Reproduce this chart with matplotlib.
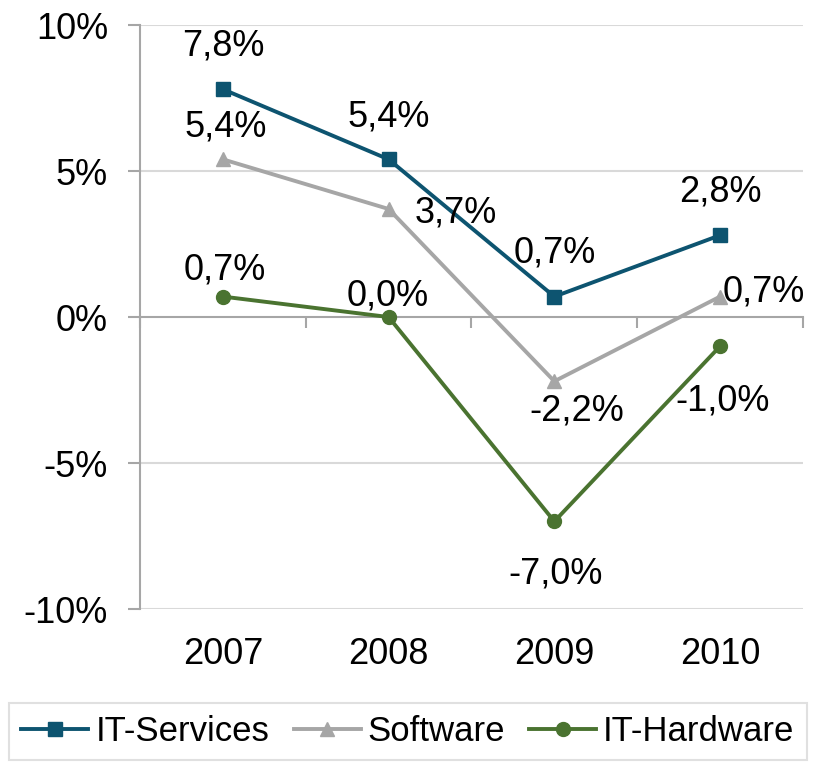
import matplotlib.pyplot as plt
from matplotlib.ticker import FuncFormatter

plt.rcParams['font.family'] = ['Liberation Sans', 'DejaVu Sans']

years = ['2007', '2008', '2009', '2010']
it_services = [7.8, 5.4, 0.7, 2.8]
software = [5.4, 3.7, -2.2, 0.7]
it_hardware = [0.7, 0.0, -7.0, -1.0]

# label placement per point: (dx, dy in points to baseline, horizontal alignment)
services_off = [(0, 24.5, 'center'), (0, 24, 'center'), (0, 24.5, 'center'), (0, 24.5, 'center')]
software_off = [(2, 16.5, 'center'), (19, -9.5, 'left'), (16, -28, 'center'), (1.5, -3.6, 'left')]
hardware_off = [(1, 12, 'center'), (-1, 8, 'center'), (1, -45, 'center'), (2, -46, 'center')]

FS = 26
fig = plt.figure(figsize=(8.16, 7.63), dpi=100)
ax = fig.add_axes([0.1716, 0.2018, 0.8124, 0.7654])

x = range(len(years))
series = [
    ('IT-Services', it_services, '#0D5470', 's', 10, services_off),
    ('Software', software, '#A6A6A6', '^', 10.5, software_off),
    ('IT-Hardware', it_hardware, '#4A7330', 'o', 10, hardware_off),
]
for name, vals, col, mk, ms, offs in series:
    ax.plot(x, vals, color=col, lw=2.8, marker=mk, markersize=ms, label=name, zorder=3)
    for xi, v, (dx, dy, ha) in zip(x, vals, offs):
        ax.annotate(f'{v:.1f}%'.replace('.', ','), (xi, v), xytext=(dx, dy),
                    textcoords='offset points', ha=ha, va='baseline',
                    fontsize=FS, zorder=4)

ax.set_xlim(-0.5, 3.5)
ax.set_ylim(-10, 10)
ax.set_yticks([-10, -5, 0, 5, 10])
ax.yaxis.set_major_formatter(FuncFormatter(lambda v, p: f'{v:.0f}%'))
for y in [-10, -5, 5, 10]:
    ax.axhline(y, color='#D9D9D9', lw=1.5, zorder=1)

for s in ['top', 'right']:
    ax.spines[s].set_visible(False)
ax.spines['left'].set_color('#A6A6A6')
ax.spines['left'].set_linewidth(1.5)
ax.spines['bottom'].set_position(('data', 0))
ax.spines['bottom'].set_color('#A6A6A6')
ax.spines['bottom'].set_linewidth(1.5)

ax.tick_params(axis='y', labelsize=FS, length=9, width=1.5, color='#A6A6A6', pad=14)
ax.set_xticks(list(x))
ax.set_xticklabels([])
ax.tick_params(axis='x', which='major', length=0)
ax.set_xticks([-0.5, 0.5, 1.5, 2.5, 3.5], minor=True)
ax.tick_params(axis='x', which='minor', length=8, width=1.5, color='#A6A6A6', direction='out')

for xi, yr in zip(x, years):
    ax.text(xi, -0.094, yr, transform=ax.get_xaxis_transform(), ha='center', va='baseline', fontsize=FS)

leg = fig.legend(loc='upper center', bbox_to_anchor=(0.5, 1 - 703 / 763), ncol=3, fontsize=25,
                 frameon=True, fancybox=False, edgecolor='#D9D9D9', handlelength=1.93,
                 columnspacing=0.7, handletextpad=0.2, borderpad=0.35, borderaxespad=0)
leg.get_frame().set_linewidth(1.5)

fig.savefig('out.png', dpi=100)
